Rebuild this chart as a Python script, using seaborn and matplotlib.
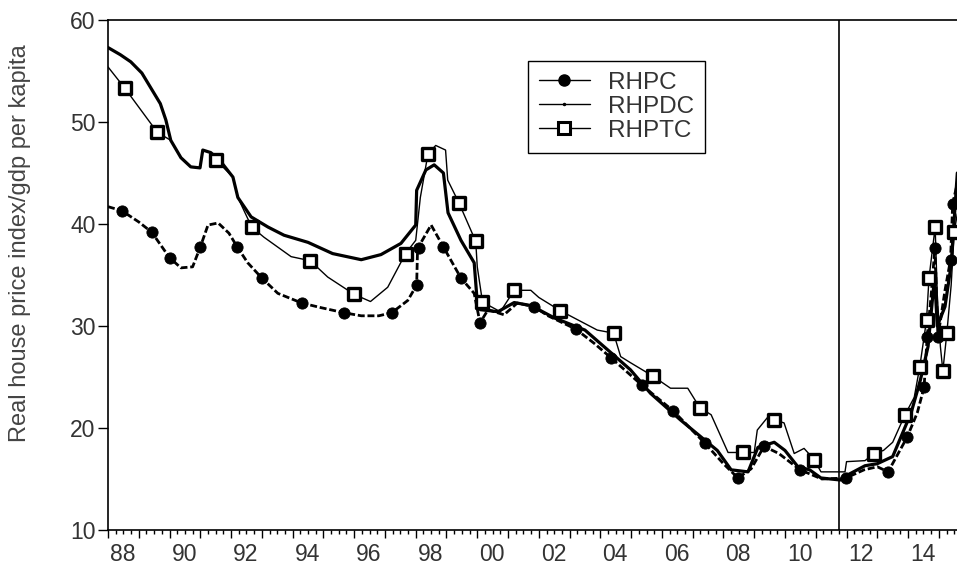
import numpy as np
import pandas as pd
import seaborn as sns
import matplotlib.pyplot as plt
from matplotlib.lines import Line2D

# series: (decimal year, value)
rhpc_x = [1988.0, 1988.45, 1989.0, 1989.42, 1990.0, 1990.37, 1990.75, 1991.0, 1991.25, 1991.58,
          1991.93, 1992.2, 1992.54, 1993.0, 1993.52, 1994.3, 1994.92, 1995.67, 1996.23, 1996.8,
          1997.22, 1997.74, 1998.03, 1998.06, 1998.5, 1998.9, 1999.47, 1999.9, 2000.09, 2000.35,
          2000.87, 2001.3, 2001.84, 2002.3, 2003.2, 2003.8, 2004.34, 2005.35, 2006.36, 2007.4,
          2008.0, 2008.47, 2008.9, 2009.32, 2009.8, 2010.49, 2011.2, 2011.98, 2012.57, 2013.0,
          2013.35, 2013.97, 2014.3, 2014.52, 2014.62, 2014.75, 2014.87, 2014.97, 2015.2, 2015.38,
          2015.45, 2015.6]
rhpc_y = [41.7, 41.3, 40.2, 39.2, 36.7, 35.7, 35.8, 37.75, 39.9, 40.1,
          39.1, 37.75, 36.2, 34.7, 33.2, 32.25, 31.8, 31.3, 31.0, 31.0,
          31.3, 32.5, 34.0, 37.6, 39.9, 37.75, 34.7, 33.2, 30.3, 31.6,
          31.1, 32.25, 31.9, 31.0, 29.7, 28.3, 26.9, 24.2, 21.7, 18.5,
          16.5, 15.1, 16.0, 18.2, 17.5, 15.9, 15.0, 15.1, 15.9, 16.2,
          15.7, 19.1, 21.5, 24.0, 28.9, 33.0, 37.6, 28.9, 33.5, 36.5,
          42.0, 44.0]

rhpdc_x = [1988.0, 1988.4, 1988.74, 1989.1, 1989.4, 1989.7, 1989.88, 1990.04, 1990.37, 1990.69,
           1990.99, 1991.08, 1991.34, 1991.67, 1992.06, 1992.22, 1992.65, 1993.2, 1993.72, 1994.5,
           1995.3, 1996.23, 1996.87, 1997.52, 1998.0, 1998.03, 1998.33, 1998.6, 1998.9, 1999.05,
           1999.47, 1999.9, 2000.0, 2000.1, 2000.67, 2001.2, 2001.75, 2002.5, 2003.5, 2004.3,
           2004.98, 2005.63, 2006.6, 2007.2, 2007.8, 2008.25, 2008.8, 2009.12, 2009.65, 2010.0,
           2010.42, 2010.8, 2011.17, 2011.8, 2012.1, 2012.6, 2013.0, 2013.5, 2014.1, 2014.4,
           2014.65, 2014.86, 2014.95, 2015.2, 2015.4, 2015.6]
rhpdc_y = [57.3, 56.6, 55.9, 54.8, 53.3, 51.8, 50.2, 48.2, 46.5, 45.6,
           45.5, 47.25, 47.0, 46.1, 44.6, 42.6, 40.7, 39.7, 38.9, 38.2,
           37.1, 36.5, 37.0, 38.1, 39.9, 43.3, 45.3, 45.8, 45.0, 41.1,
           38.4, 36.2, 32.3, 31.6, 31.4, 32.3, 32.0, 30.8, 29.6, 27.5,
           25.7, 23.4, 20.8, 19.3, 17.8, 15.9, 15.7, 18.1, 18.6, 17.8,
           16.2, 15.9, 15.1, 14.9, 15.5, 16.3, 16.5, 17.2, 21.5, 24.7,
           28.0, 34.8, 30.0, 31.9, 36.0, 45.0]

rhptc_x = [1988.0, 1988.55, 1989.6, 1990.04, 1990.37, 1990.69, 1990.99, 1991.08, 1991.34, 1991.5,
           1992.06, 1992.22, 1992.67, 1993.07, 1993.95, 1994.57, 1995.14, 1996.0, 1996.53, 1997.09,
           1997.67, 1998.0, 1998.15, 1998.4, 1998.65, 1998.97, 1999.04, 1999.4, 1999.95, 2000.0,
           2000.17, 2000.75, 2001.2, 2001.74, 2002.0, 2002.7, 2003.9, 2004.43, 2004.66, 2004.98,
           2005.7, 2006.28, 2006.84, 2007.23, 2007.6, 2008.15, 2008.64, 2009.0, 2009.1, 2009.45,
           2009.65, 2009.97, 2010.3, 2010.62, 2010.95, 2011.17, 2011.95, 2012.0, 2012.6, 2012.9,
           2013.2, 2013.5, 2013.9, 2014.2, 2014.38, 2014.6, 2014.68, 2014.88, 2014.95, 2015.05,
           2015.13, 2015.26, 2015.4, 2015.5, 2015.6]
rhptc_y = [55.4, 53.3, 49.0, 48.2, 46.5, 45.6, 45.5, 47.25, 47.0, 46.3,
           44.6, 42.6, 39.7, 38.7, 36.8, 36.4, 34.8, 33.1, 32.4, 33.8,
           37.1, 38.4, 42.6, 46.9, 47.7, 47.25, 44.3, 42.1, 38.3, 35.8,
           32.35, 31.4, 33.5, 33.5, 32.8, 31.5, 29.6, 29.3, 27.0, 26.4,
           25.1, 23.9, 23.9, 22.0, 21.3, 17.6, 17.6, 17.6, 19.8, 21.1,
           20.8, 20.5, 17.5, 18.0, 16.9, 15.7, 15.7, 16.7, 16.8, 17.5,
           17.8, 18.6, 21.3, 23.0, 26.0, 30.6, 34.7, 39.7, 33.0, 28.0,
           25.6, 29.3, 34.0, 39.2, 41.0]

# big marker positions
rhpc_mx = [1988.45, 1989.42, 1990.0, 1991.0, 1992.2, 1993.0, 1994.3, 1995.67, 1997.22, 1998.03,
           1998.1, 1998.9, 1999.47, 2000.09, 2001.84, 2003.2, 2004.34, 2005.35, 2006.36, 2007.4,
           2008.47, 2009.32, 2010.49, 2011.98, 2013.35, 2013.97, 2014.52, 2014.62, 2014.87, 2014.97,
           2015.38, 2015.45]
rhpc_my = [41.3, 39.2, 36.7, 37.75, 37.75, 34.7, 32.25, 31.3, 31.3, 34.0,
           37.6, 37.75, 34.7, 30.3, 31.9, 29.7, 26.9, 24.2, 21.7, 18.5,
           15.1, 18.2, 15.9, 15.1, 15.7, 19.1, 24.0, 28.9, 37.6, 28.9,
           36.5, 42.0]
rhptc_mx = [1988.55, 1989.6, 1991.5, 1992.67, 1994.57, 1996.0, 1997.67, 1998.4, 1999.4, 1999.95,
            2000.17, 2001.2, 2002.7, 2004.43, 2005.7, 2007.23, 2008.64, 2009.65, 2010.95, 2012.9,
            2013.9, 2014.38, 2014.6, 2014.68, 2014.88, 2015.13, 2015.26, 2015.5]
rhptc_my = [53.3, 49.0, 46.3, 39.7, 36.4, 33.1, 37.1, 46.9, 42.1, 38.3,
            32.35, 33.5, 31.5, 29.3, 25.1, 22.0, 17.6, 20.8, 16.9, 17.5,
            21.3, 26.0, 30.6, 34.7, 39.7, 25.6, 29.3, 39.2]

year_labels = ['88', '90', '92', '94', '96', '98', '00', '02', '04', '06', '08', '10', '12', '14']
label_years = list(range(1988, 2015, 2))
break_year = 2011.75

sns.set_theme(style='white')
plt.rcParams['font.family'] = ['Liberation Sans', 'DejaVu Sans']

fig = plt.figure(figsize=(9.57, 5.70), dpi=100)
ax = fig.add_axes([108 / 957, 40 / 570, 853 / 957, 510 / 570])

df_pc = pd.DataFrame({'year': rhpc_x, 'value': rhpc_y})
df_dc = pd.DataFrame({'year': rhpdc_x, 'value': rhpdc_y})
df_tc = pd.DataFrame({'year': rhptc_x, 'value': rhptc_y})

sns.lineplot(data=df_dc, x='year', y='value', ax=ax, color='black', lw=2.3,
             estimator=None, sort=False)
sns.lineplot(data=df_pc, x='year', y='value', ax=ax, color='black', lw=2.0,
             estimator=None, sort=False)
ax.lines[-1].set_dashes([2.5, 1])
sns.lineplot(data=df_tc, x='year', y='value', ax=ax, color='black', lw=1.0,
             estimator=None, sort=False)

sns.scatterplot(x=rhpc_mx, y=rhpc_my, ax=ax, marker='o', s=65, color='black',
                edgecolor='black', zorder=4, legend=False)
sns.scatterplot(x=rhptc_mx, y=rhptc_my, ax=ax, marker='s', s=85, facecolor='white',
                edgecolor='black', linewidth=2.4, zorder=4, legend=False)

ax.axvline(break_year, color='black', lw=1.2)

ax.set_xlim(1988.0, 2015.72)
ax.set_ylim(10, 60)
ax.set_yticks([10, 20, 30, 40, 50, 60])
ax.set_xticks(np.arange(1988, 2016))
ax.set_xticks(np.arange(1988, 2015.75, 0.25), minor=True)
ax.tick_params(axis='x', which='major', length=6, width=1, direction='out', bottom=True,
               labelbottom=False, color='black')
ax.tick_params(axis='x', which='minor', length=3, width=1, direction='out', bottom=True,
               color='black')
ax.tick_params(axis='y', which='major', length=7, width=1, direction='out', left=True,
               labelsize=16.5, labelcolor='#333333', pad=2, color='black')

for yr, lab in zip(label_years, year_labels):
    ax.text(yr + 0.48, 8.75, lab, ha='center', va='top', fontsize=16.5, color='#333333',
            clip_on=False)

ax.set_xlabel('')
ax.set_ylabel('Real house price index/gdp per kapita', fontsize=17, color='#444444')
ax.yaxis.set_label_coords(-0.09, 0.563)

for side in ['left', 'bottom', 'top']:
    ax.spines[side].set_visible(True)
    ax.spines[side].set_color('black')
    ax.spines[side].set_linewidth(1.2)
ax.spines['right'].set_visible(False)

handles = [
    Line2D([], [], color='black', lw=1, marker='o', ms=8),
    Line2D([], [], color='black', lw=1, marker='.', ms=3),
    Line2D([], [], color='black', lw=1, marker='s', ms=8, mfc='white', mew=2.2),
]
leg = ax.legend(handles, ['RHPC', 'RHPDC', 'RHPTC'], loc='upper left',
                bbox_to_anchor=(0.492, 0.92), borderaxespad=0, fontsize=17.5,
                frameon=True, fancybox=False, edgecolor='black', framealpha=1,
                handlelength=2.1, handletextpad=0.75, labelspacing=0.08, borderpad=0.45)
leg.get_frame().set_linewidth(1.0)
for t in leg.get_texts():
    t.set_color('#333333')

fig.savefig('out.png', dpi=100)
